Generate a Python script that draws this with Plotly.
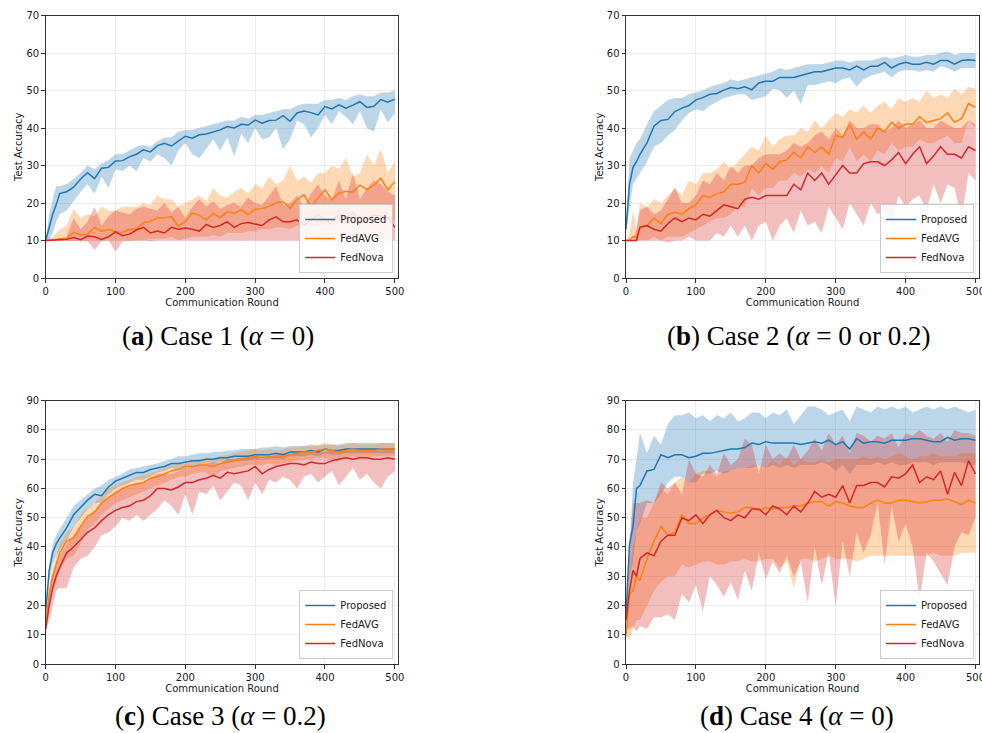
import plotly.graph_objects as go

# ---------------- data ----------------
rounds = [0, 5, 10, 15, 20] + list(range(30, 501, 10))

# Case 1
a_prop = [10, 13.5, 17, 19.5, 22.5,
          23, 24.2, 26.4, 28.1, 26.5, 29.3, 29.5, 31.2,
          31.3, 32.3, 33, 34.2, 33.6, 35.3, 35.9, 35.2, 36.5, 37.8,
          37.3, 38.2, 38.4, 39, 39.5, 40.4, 40, 41, 40.8, 42.1,
          41.3, 42, 42.1, 43.3, 41.8, 44, 44.5, 44.1, 43.5, 45.7,
          45.1, 46.2, 45.3, 46.1, 47, 45.5, 45.8, 47.6, 46.9, 47.7]
a_prop_hi = [10, 17, 21, 24.5, 24.5,
             25, 26.5, 28, 30, 29, 30.5, 31.5, 33,
             33, 34, 35, 35.5, 35, 36.5, 37.5, 37.5, 39, 39.5,
             39.5, 40, 40.5, 41, 41.5, 42, 42, 43, 42.5, 43.5,
             43.5, 44, 44.5, 45, 45, 46, 46.5, 46.5, 46.5, 47.5,
             47.5, 48, 47.5, 48.5, 49, 48.5, 48.5, 49.5, 49.5, 50]
a_prop_lo = [9.5, 10, 12, 15, 17,
             18, 20.5, 23, 25, 22.5, 27, 24, 29,
             28.5, 30, 28.5, 32, 31, 33, 32, 30, 34, 36,
             33, 32, 34.5, 37, 34, 37.5, 32.5, 38.5, 36, 40,
             37, 37.5, 40, 34.5, 37, 42, 41, 37.5, 40, 43.5,
             41, 44.5, 43, 41, 44.5, 40, 39, 45, 41.5, 44]
a_avg = [10, 10, 10.2, 10.3, 10.5,
         10.5, 12.2, 11.5, 11.7, 13.5, 12.5, 12.9, 12.4,
         12.2, 13, 13, 14.8, 15.1, 16, 16, 16.4, 13.8, 15.1,
         17.3, 16.7, 15.5, 17.3, 16.1, 17.7, 17.3, 18.2, 16.9, 18.4,
         18.5, 19.1, 20, 20.4, 18.6, 20.9, 22.2, 19.1, 21.3, 23.5,
         20.9, 22.6, 23.1, 22.9, 24.8, 23.5, 24.8, 26.6, 23.5, 25.7]
a_avg_hi = [10, 10.5, 11, 12, 13,
            14, 18.5, 16, 17, 16.5, 19, 18, 18,
            19, 19, 19, 20, 19.5, 22, 21, 21, 19, 20,
            21, 22, 20.5, 24, 22, 21.5, 23, 24, 22.5, 25,
            24, 27, 25, 26, 30, 26, 27, 25.5, 28, 28,
            30, 29, 32, 27, 28, 33, 30, 34.5, 28, 31]
a_avg_lo = [10, 10, 10, 10, 10,
            10, 10, 10, 10, 10, 10, 10, 10,
            10, 10, 10, 10, 10.5, 10.5, 10.5, 11, 10, 10.5,
            11, 11, 11, 11.5, 11, 12, 12, 12, 12.5, 12.5,
            13, 13, 13.5, 13.5, 13, 14, 14, 13.5, 14, 14.5,
            14, 15, 15, 14.5, 15, 15, 15.5, 15.5, 15, 15.5]
a_nova = [10, 10, 10, 10, 10.2,
          10.3, 10.8, 10.2, 11.2, 11, 10.3, 11, 12.3,
          11.3, 11.7, 12.8, 13.5, 12, 12.5, 12, 13.5, 13, 13.3,
          13, 12.5, 14.3, 13.5, 14, 15, 13.5, 14.5, 14.8, 14.5,
          14, 15.5, 16.3, 15, 15, 15.5, 14, 15.5, 17, 15.5,
          15, 17, 16, 17.5, 14.5, 15.5, 16.8, 16.5, 16.2, 13.5]
a_nova_hi = [10, 10, 10.2, 10.3, 10.5,
             11, 16, 13, 15, 19, 14, 16.5, 18,
             17.5, 17, 18.5, 19, 18.5, 18, 20, 17.5, 19, 16,
             19, 21, 19, 20.5, 18.5, 19.5, 20, 19, 21.5, 20,
             19.5, 22, 24.5, 19.5, 20, 22, 19, 22.5, 25, 22,
             21, 26, 21, 28, 21, 24, 26, 25, 23, 22]
a_nova_lo = [10, 10, 9.8, 9.8, 9.8,
             9.8, 10, 9.8, 9.8, 7.5, 9.8, 10, 7,
             9.8, 10, 10, 10, 9.8, 10, 10, 10, 10, 10,
             10, 10, 10, 10, 10, 10, 10, 10, 10, 10,
             10, 10, 10, 10, 10, 10, 10, 10, 10, 10,
             10, 10, 10, 10, 10, 10, 10, 10, 10, 10]

# Case 2
b_prop = [13, 25, 29.5, 31, 33,
          36, 40.5, 42, 42.3, 44.4, 45.3, 46, 47.5,
          48.1, 49, 49.2, 50.1, 50.8, 50.5, 51, 50.2, 52, 52.5,
          52.5, 53.5, 53.5, 53.5, 54, 54.5, 55, 55, 55.5, 56,
          56, 55.5, 56.5, 55.5, 56.5, 56.5, 57.5, 56, 57, 57.5,
          57, 57, 57.5, 57, 58, 58, 57, 58, 58.2, 58]
b_prop_hi = [14, 32, 34, 36, 37,
             41, 44.5, 46, 47.5, 48, 48, 49, 49.5,
             50, 51, 51.5, 52, 53, 52.5, 53, 53.5, 54, 54.5,
             55, 56, 55.5, 56, 56.5, 57, 57, 57, 57.5, 58,
             58, 57.5, 58, 58, 58, 58.5, 59, 58.5, 59, 59.5,
             59, 59, 59.5, 59.5, 60, 60.5, 59.5, 60, 60, 60]
b_prop_lo = [12, 18, 25, 26.5, 28,
             31, 35, 36, 38, 39.5, 42, 44, 45,
             44.5, 46, 47, 48, 48.5, 49, 49, 47.5, 48, 48.5,
             50.5, 50, 48, 50, 46.5, 51.5, 51.5, 52, 52.5, 52,
             53, 53.5, 51, 53, 54, 54.5, 55, 53.5, 55, 55.5,
             55.5, 55, 55.5, 55, 56.5, 56, 55, 56, 56, 56]
b_avg = [10, 10, 11, 11, 13.5,
         14, 16, 14.5, 17, 17.5, 17, 18.5, 19.5,
         22, 21.5, 22.5, 23, 25, 25, 25.5, 30, 28, 30.5,
         29, 31, 31.5, 33.5, 32, 35, 33.5, 35, 33, 38,
         37.5, 41, 37, 39, 37, 40, 39, 41.5, 40, 41,
         41, 43, 41.5, 42, 42.5, 44, 41.5, 42.5, 46.5, 45.5]
b_avg_hi = [10, 12, 18, 13, 20,
            19, 21, 20, 22, 24, 22, 26, 25,
            28, 28, 29, 31, 29, 31, 33, 35, 34, 38,
            35, 37, 38, 38, 40, 39, 42, 40, 42, 44,
            43, 45, 44, 46, 44, 46, 47, 45, 48, 47,
            48, 47, 50, 48, 49, 48, 50.5, 49, 51, 50.5]
b_avg_lo = [10, 10, 10, 10, 10,
            10, 11, 10, 11, 11, 11, 12, 13,
            14, 15, 16, 16, 17, 19, 19, 24, 22, 24,
            24, 26, 26, 28, 27, 29, 28, 30, 28, 32,
            31, 35, 31, 33, 31, 34, 33, 36, 34, 35,
            35, 37, 36, 36, 37, 38, 36, 36, 42, 40]
b_nova = [10, 10, 10, 10, 13.5,
          14, 13, 12.5, 14.5, 16, 15, 16, 15.5,
          17, 16.5, 18, 19.5, 19, 18.5, 21, 21.5, 21, 22,
          22, 22, 22, 25, 23.5, 28, 26, 28, 25, 27.5,
          30, 28, 28, 30.5, 31, 31, 30, 31.5, 33.5, 30.5,
          33, 35, 30.5, 32.5, 35, 33, 33, 32, 35, 34]
b_nova_hi = [10, 10, 10, 13, 18,
             19, 17, 18, 21, 24, 20, 20, 22,
             26, 25, 28, 26, 30, 28, 30, 30, 32, 33,
             33, 33, 34, 36, 35, 36, 38, 39, 37, 40,
             38, 42, 40, 40, 41, 41, 39, 40, 42, 40,
             41, 42, 40, 40, 42, 41, 40, 40, 42, 41]
b_nova_lo = [10, 10, 10, 10, 10,
             10, 10, 10, 9.5, 10, 10, 11, 10,
             10, 10, 12, 11, 14, 11, 14, 10, 14, 15,
             10, 14, 16, 12, 18, 14, 15, 12, 19, 16,
             13, 20, 17, 14, 20, 17, 18, 15, 22, 19,
             21, 22, 18, 25, 20, 25, 24, 16, 28, 26]

# Case 3
c_prop = [18, 32, 38, 41, 43,
          46.5, 51, 53.5, 56, 58, 57.5, 60.5, 62.5,
          63.5, 64.5, 65.5, 65.5, 66.5, 67, 67.5, 68.5, 68.5, 69,
          69.5, 69.5, 70, 70, 70.5, 70.5, 71, 71, 71, 71.5,
          71.5, 71.5, 72, 71.5, 72.5, 72.5, 72.5, 73, 72.5, 73.5,
          73, 73, 73.5, 73.5, 73.5, 73.5, 73.5, 73.5, 73.5, 73.5]
c_prop_hi = [19, 34, 41, 44, 46,
             50, 54, 56, 58, 60, 61, 63, 64,
             65, 66.5, 67, 67.5, 68, 68.5, 69.5, 70, 71, 71,
             71.5, 72, 72, 72.5, 72.5, 73, 73, 73.5, 73.5, 73.5,
             74, 74, 74.5, 74, 74.5, 74.5, 74.5, 75, 74.5, 75,
             75, 75, 75.5, 75.5, 75.5, 75.5, 75.5, 75.5, 75.5, 75.5]
c_prop_lo = [17, 28, 34, 37, 39,
             42, 47, 50, 53, 55, 55, 58, 60,
             61, 62, 63, 63, 64, 65.5, 66, 67, 66.5, 67.5,
             67.5, 68, 68.5, 68.5, 69, 69, 69.5, 69.5, 69.5, 70,
             70, 70, 70.5, 70, 71, 71, 71, 71.5, 71, 72,
             71.5, 71.5, 72, 72, 72, 72, 72, 72, 72, 72]
c_avg = [14, 24, 30, 34, 38,
         42, 43, 47, 50.5, 52, 55, 57, 58.5,
         60, 61, 61.5, 62, 63.5, 64, 65, 66, 66.5, 67.5,
         67.5, 68, 68, 67.5, 68.5, 69, 69.5, 70, 70.5, 71,
         70.5, 71, 70.5, 71, 71.5, 72, 72.5, 72.5, 73, 73.5,
         73, 72.5, 73, 73.5, 73, 73, 73, 73.5, 73.5, 73.5]
c_avg_hi = [15, 27, 33, 37, 41,
            45, 47, 51, 53.5, 55, 58, 60, 61,
            62, 63, 64, 64.5, 65.5, 66, 67, 68, 68.5, 69.5,
            69.5, 70, 70.5, 70.5, 71, 71.5, 72, 72.5, 73, 73.5,
            73, 73.5, 73, 73.5, 74, 74, 74.5, 74.5, 75, 75.5,
            75, 74.5, 75, 75.5, 75, 75, 75, 75.5, 75.5, 75.5]
c_avg_lo = [13, 20, 25, 28, 32,
            36, 37, 41, 46, 48, 51, 53, 55,
            56, 57, 58, 59, 60, 61, 62, 63, 64, 64,
            65, 65.5, 65.5, 64, 66, 66.5, 67, 67.5, 68, 68,
            68, 68.5, 68, 68.5, 69, 69.5, 70, 70, 70.5, 70.5,
            70, 70, 70.5, 71, 70.5, 70.5, 71, 71, 71, 71]
c_nova = [12, 20, 26, 30, 33,
          38, 40, 42.5, 45, 46.5, 49, 51, 52.5,
          53.5, 54, 55.5, 56, 57.5, 60, 60, 59.5, 60.5, 62,
          62, 63, 63.5, 64.5, 63.5, 65.5, 65, 65.5, 66, 67.5,
          65, 66.5, 67.5, 68, 68.5, 68.5, 68, 69, 68.5, 68.5,
          69.5, 70, 70.5, 70, 70.5, 70.5, 70, 70, 70.5, 70]
c_nova_hi = [13, 23, 30, 34, 37,
             41, 44, 47, 50, 52, 55, 57, 59,
             60, 60.5, 62, 62, 63.5, 65, 65, 65, 66, 67,
             67.5, 68, 68.5, 69, 68.5, 70, 70, 70.5, 70.5, 71,
             70, 71, 71.5, 72, 72, 72, 72, 72.5, 72.5, 72.5,
             73, 73, 73.5, 73, 73.5, 73.5, 73.5, 73, 73.5, 73]
c_nova_lo = [11, 15, 20, 25, 26,
             26, 33, 36, 37, 40, 44, 45, 47,
             50, 49, 51, 49, 51, 53, 56, 54, 51, 58,
             51, 59, 58, 61, 56, 59, 62, 61, 56, 62,
             58, 63, 62, 64, 63, 60, 64, 65, 62, 64,
             66, 61, 64, 67, 63, 65, 62, 60, 64, 66]

# Case 4
d_prop = [17, 41, 47, 60, 61,
          66, 66.5, 71.5, 70.5, 71.5, 71.5, 70.5, 71,
          72, 72, 72.5, 73, 73.5, 73.5, 74, 75.5, 75, 76,
          75.5, 75.5, 75.5, 75.5, 75, 75.5, 76, 75.5, 76.5, 75,
          76, 73.5, 77, 75.5, 76, 76, 75.5, 76.5, 76.5, 76.5,
          77, 77, 76.5, 76, 76, 77.5, 76.5, 77, 77, 76.5]
d_prop_hi = [17, 42, 62, 70, 79,
             72, 78, 75, 82, 85, 85, 86, 84,
             85, 83, 85, 84, 86, 83, 84, 86, 86, 84,
             86, 85, 87, 82, 85, 88, 88, 87, 85, 86,
             87, 83, 88, 87, 86, 88, 87, 88, 87, 88,
             86, 87, 88, 87, 88, 87, 88, 87, 86, 87]
d_prop_lo = [15, 30, 35, 45, 48,
             55, 55, 58, 62, 64, 64, 62, 62,
             65, 65, 66, 65, 66, 67, 67, 67, 68, 67,
             68, 67, 68, 67, 68, 68, 68, 69, 68, 66,
             68, 65, 68, 68, 68, 69, 68, 69, 68, 68,
             69, 69, 69, 68, 69, 69, 69, 69, 68, 68]
d_avg = [10, 24, 25, 30, 28.5,
         36, 42, 47, 44, 45, 51, 48, 48,
         50, 51, 52.5, 52, 51.5, 52, 53.5, 53.5, 52.5, 53.5,
         53, 53.5, 53.5, 54, 54, 55, 55.5, 55.5, 54, 55.5,
         55, 54, 53.5, 53.5, 55, 56, 55, 55, 56, 56,
         55.5, 55, 55.5, 56, 56, 56.5, 55.5, 54.5, 56, 55]
d_avg_hi = [10, 30, 40, 45, 50,
            50, 55, 60, 58, 62, 64, 62, 65,
            66, 66, 64, 66, 66, 67, 67, 68, 68, 67,
            70, 68, 71, 68, 70, 69, 69, 70, 69, 70,
            70, 70, 70, 71, 70, 71, 70, 71, 72, 71,
            70, 71, 71, 72, 71, 71, 71, 72, 72, 72]
d_avg_lo = [9, 9, 12, 15, 15,
            20, 25, 28, 30, 30, 34, 33, 34,
            35, 35, 34, 34, 35, 35, 36, 35, 35, 36,
            36, 33, 35, 26, 36, 36, 35, 36, 37, 36,
            36, 36, 35, 36, 37, 37, 37, 37, 37, 37,
            37, 37, 37, 38, 37, 37, 37, 38, 38, 38]
d_nova = [15, 25, 32, 30, 36,
          38, 37, 42, 44, 44, 50, 49, 51,
          48, 51, 52.5, 50, 49, 51, 50, 53, 53, 51,
          54, 53, 51, 54, 52, 55, 59, 57, 58, 57,
          61, 55, 61, 61, 62, 62, 60.5, 64, 63.5, 65,
          68, 62, 64, 63, 66, 58, 65.5, 61, 69.5, 65]
d_nova_hi = [15, 40, 55, 55, 55,
             56, 55, 62, 60, 62, 58, 70, 65,
             64, 68, 65, 72, 68, 70, 77, 75, 65, 75,
             70, 72, 70, 75, 70, 73, 77, 73, 79, 75,
             78, 72, 79, 78, 76, 78, 77, 79, 74, 79,
             78, 80, 78, 77, 79, 76, 80, 79, 79, 78]
d_nova_lo = [12, 12, 13, 11, 13,
             12, 16, 16, 17, 15, 24, 21, 27,
             18, 30, 27, 23, 28, 22, 32, 25, 38, 29,
             35, 31, 37, 30, 35, 21, 40, 27, 38, 20,
             42, 30, 45, 38, 44, 55, 34, 54, 42, 48,
             40, 22, 38, 35, 31, 27, 40, 45, 44, 50]

series_names = ["Proposed", "FedAVG", "FedNova"]
line_colors = ["#1f77b4", "#ff7f0e", "#d62728"]
fill_colors = ["rgba(31,119,180,0.3)", "rgba(255,127,14,0.3)", "rgba(214,39,40,0.3)"]

panels = [
    dict(data=[(a_prop, a_prop_lo, a_prop_hi), (a_avg, a_avg_lo, a_avg_hi), (a_nova, a_nova_lo, a_nova_hi)],
         ymax=70, caption="(<b>a</b>) Case 1 (<i>α</i> = 0)"),
    dict(data=[(b_prop, b_prop_lo, b_prop_hi), (b_avg, b_avg_lo, b_avg_hi), (b_nova, b_nova_lo, b_nova_hi)],
         ymax=70, caption="(<b>b</b>) Case 2 (<i>α</i> = 0 or 0.2)"),
    dict(data=[(c_prop, c_prop_lo, c_prop_hi), (c_avg, c_avg_lo, c_avg_hi), (c_nova, c_nova_lo, c_nova_hi)],
         ymax=90, caption="(<b>c</b>) Case 3 (<i>α</i> = 0.2)"),
    dict(data=[(d_prop, d_prop_lo, d_prop_hi), (d_avg, d_avg_lo, d_avg_hi), (d_nova, d_nova_lo, d_nova_hi)],
         ymax=90, caption="(<b>d</b>) Case 4 (<i>α</i> = 0)"),
]

# ---------------- layout geometry (pixels) ----------------
W, H = 982, 733
boxes = [  # left, right, top, bottom
    (45.7, 398.3, 15.5, 278.0),
    (626.0, 979.0, 15.5, 278.0),
    (45.7, 398.3, 400.7, 664.0),
    (626.0, 979.0, 400.7, 664.0),
]
caption_pos = [(218, 336), (798, 336), (220, 716), (797, 716)]

fig = go.Figure()
tick_font = dict(family="DejaVu Sans", size=10, color="#1a1a1a")
layout = dict(width=W, height=H, margin=dict(l=0, r=0, t=0, b=0, autoexpand=False),
              paper_bgcolor="white", plot_bgcolor="white", showlegend=True,
              hovermode=False)
annotations = []

for i, p in enumerate(panels):
    n = i + 1
    xa = "x" if n == 1 else f"x{n}"
    ya = "y" if n == 1 else f"y{n}"
    leg = "legend" if n == 1 else f"legend{n}"
    # bands
    for k, (m, lo, hi) in enumerate(p["data"]):
        fig.add_trace(go.Scatter(x=rounds, y=lo, mode="lines", line=dict(width=0),
                                 xaxis=xa, yaxis=ya, showlegend=False, hoverinfo="skip",
                                 legend=leg))
        fig.add_trace(go.Scatter(x=rounds, y=hi, mode="lines", line=dict(width=0),
                                 fill="tonexty", fillcolor=fill_colors[k],
                                 xaxis=xa, yaxis=ya, showlegend=False, hoverinfo="skip",
                                 legend=leg))
    # mean lines
    for k, (m, lo, hi) in enumerate(p["data"]):
        fig.add_trace(go.Scatter(x=rounds, y=m, mode="lines", name=series_names[k],
                                 line=dict(color=line_colors[k], width=1.5),
                                 xaxis=xa, yaxis=ya, legend=leg))
    l, r, t, b = boxes[i]
    xkey = "xaxis" if n == 1 else f"xaxis{n}"
    ykey = "yaxis" if n == 1 else f"yaxis{n}"
    layout[xkey] = dict(domain=[l / W, r / W], anchor=ya, range=[0, 505], automargin=False,
                        tickvals=[0, 100, 200, 300, 400, 500], ticklabeloverflow="allow",
                        showgrid=True, gridcolor="#ececec", gridwidth=1,
                        showline=True, linecolor="#333333", linewidth=1, mirror=True,
                        ticks="outside", ticklen=3.5, tickcolor="#333333",
                        tickfont=tick_font, zeroline=False,
                        title=dict(text="Communication Round", font=tick_font, standoff=2))
    layout[ykey] = dict(domain=[1 - b / H, 1 - t / H], anchor=xa, range=[0, p["ymax"]],
                        automargin=False,
                        dtick=10, showgrid=True, gridcolor="#ececec", gridwidth=1,
                        showline=True, linecolor="#333333", linewidth=1, mirror=True,
                        ticks="outside", ticklen=3.5, tickcolor="#333333",
                        tickfont=tick_font, zeroline=False,
                        title=dict(text="Test Accuracy", font=tick_font, standoff=1))
    layout[leg] = dict(x=(r - 5) / W, y=1 - (b - 5) / H, xanchor="right", yanchor="bottom",
                       bgcolor="rgba(255,255,255,0.85)", bordercolor="#cccccc", borderwidth=1,
                       font=dict(family="DejaVu Sans", size=10, color="#1a1a1a"),
                       traceorder="normal", tracegroupgap=0, itemwidth=30)
    cx, cy = caption_pos[i]
    annotations.append(dict(x=cx / W, y=1 - cy / H, xref="paper", yref="paper",
                            text=p["caption"], showarrow=False,
                            font=dict(family="Liberation Serif", size=27, color="black"),
                            xanchor="center", yanchor="middle"))

layout["annotations"] = annotations
fig.update_layout(**layout)
fig.write_html("out.html", config={"displayModeBar": False, "staticPlot": True},
               post_script="document.body.style.margin='0';document.body.style.overflow='hidden';")
